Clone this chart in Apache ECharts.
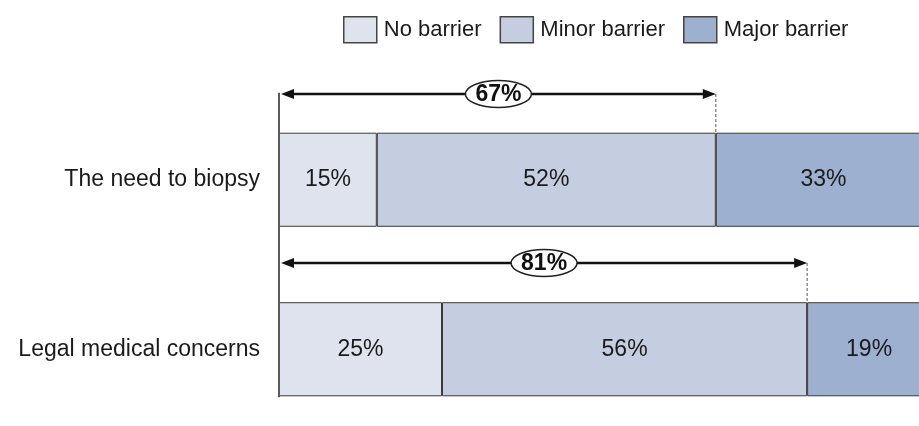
<!DOCTYPE html>
<html>
<head>
<meta charset="utf-8">
<script src="https://cdn.jsdelivr.net/npm/echarts@6/dist/echarts.min.js"></script>
<style>
html,body{margin:0;padding:0;background:#fff;}
#chart{width:919px;height:426px;}
</style>
</head>
<body>
<div id="chart"></div>
<script>
var categories = ['The need to biopsy', 'Legal medical concerns'];
var noBarrier = [15, 25];
var minorBarrier = [52, 56];
var majorBarrier = [33, 19];
var totals = [67, 81];	//no + minor barrier

var font = 'Liberation Sans, Arial, sans-serif';
var barRatio = 0.555;

function barSeries(name, data, color){
	return {
		name: name,
		type: 'bar',
		stack: 'all',
		barWidth: (barRatio*100)+'%',
		data: data,
		itemStyle: {color: color, borderColor: '#3a3a3a', borderWidth: 1},
		label: {
			show: true,
			position: 'inside',
			formatter: '{c}%',
			fontSize: 23,
			fontFamily: font,
			color: '#1a1a1a'
		},
		emphasis: {disabled: true}
	};
}

//画双向箭头和椭圆标签
function arrowItem(params, api){
	var cat = api.value(1), end = api.value(0);
	var p0 = api.coord([0, cat]);
	var p1 = api.coord([end, cat]);
	var h = api.size([0, 1])[1]*barRatio;
	var top = p0[1] - h/2;
	var ay = Math.round(top - 39);
	var x0 = p0[0] + 2, x1 = p1[0];
	var mid = (x0 + x1)/2;
	return {
		type: 'group',
		children: [{
			type: 'line',
			shape: {x1: x1, y1: ay, x2: x1, y2: top},
			style: {stroke: '#555', lineWidth: 1, lineDash: [3, 2]}
		},{
			type: 'line',
			shape: {x1: x0 + 8, y1: ay, x2: x1 - 8, y2: ay},
			style: {stroke: '#111', lineWidth: 2.5}
		},{
			type: 'polygon',
			shape: {points: [[x0, ay], [x0 + 13, ay - 5], [x0 + 13, ay + 5]]},
			style: {fill: '#111'}
		},{
			type: 'polygon',
			shape: {points: [[x1, ay], [x1 - 13, ay - 5], [x1 - 13, ay + 5]]},
			style: {fill: '#111'}
		},{
			type: 'ellipse',
			shape: {cx: mid, cy: ay, rx: 33, ry: 13.5},
			style: {fill: '#fff', stroke: '#222', lineWidth: 1.5}
		},{
			type: 'text',
			x: mid, y: ay + 1,
			style: {
				text: end + '%',
				align: 'center',
				verticalAlign: 'middle',
				font: 'bold 23px ' + font,
				fill: '#111'
			}
		}]
	};
}

var arrowData = [];
for(var i=0;i<totals.length;i++){
	arrowData.push([totals[i], i]);
}

var chart = echarts.init(document.getElementById('chart'));
var option = {
	animation: false,
	legend: {
		data: ['No barrier', 'Minor barrier', 'Major barrier'],
		left: 338,
		top: 11,
		icon: 'rect',
		itemWidth: 33,
		itemHeight: 26,
		itemGap: 18,
		selectedMode: false,
		itemStyle: {borderColor: '#444', borderWidth: 1.5},
		textStyle: {fontSize: 22, fontFamily: font, color: '#1a1a1a', padding: [0, 0, 0, 2]}
	},
	grid: {left: 279, top: 95, width: 652, height: 339, outerBoundsMode: 'none'},
	xAxis: {type: 'value', min: 0, max: 100, show: false},
	yAxis: {
		type: 'category',
		data: categories,
		inverse: true,
		axisLine: {show: false},
		axisTick: {show: false},
		axisLabel: {fontSize: 23, fontFamily: font, color: '#1a1a1a', margin: 19}
	},
	series: [
		barSeries('No barrier', noBarrier, '#dee3ee'),
		barSeries('Minor barrier', minorBarrier, '#c4cee0'),
		barSeries('Major barrier', majorBarrier, '#9db0d0'),
		{
			type: 'custom',
			renderItem: arrowItem,
			data: arrowData,
			encode: {x: 0, y: 1},
			clip: false,
			z: 5,
			silent: true
		}
	]
};
chart.setOption(option);

//左侧纵轴线
var ax = chart.convertToPixel({gridIndex: 0}, [0, 0]);
var bandH = chart.convertToPixel({gridIndex: 0}, [0, 1])[1] - ax[1];
chart.setOption({
	graphic: [{
		type: 'line',
		z: 10,
		shape: {x1: ax[0], y1: ax[1] - bandH*barRatio/2 - 40, x2: ax[0], y2: ax[1] + bandH + bandH*barRatio/2 + 1},
		style: {stroke: '#5a5a5a', lineWidth: 2}
	}]
});
</script>
</body>
</html>
